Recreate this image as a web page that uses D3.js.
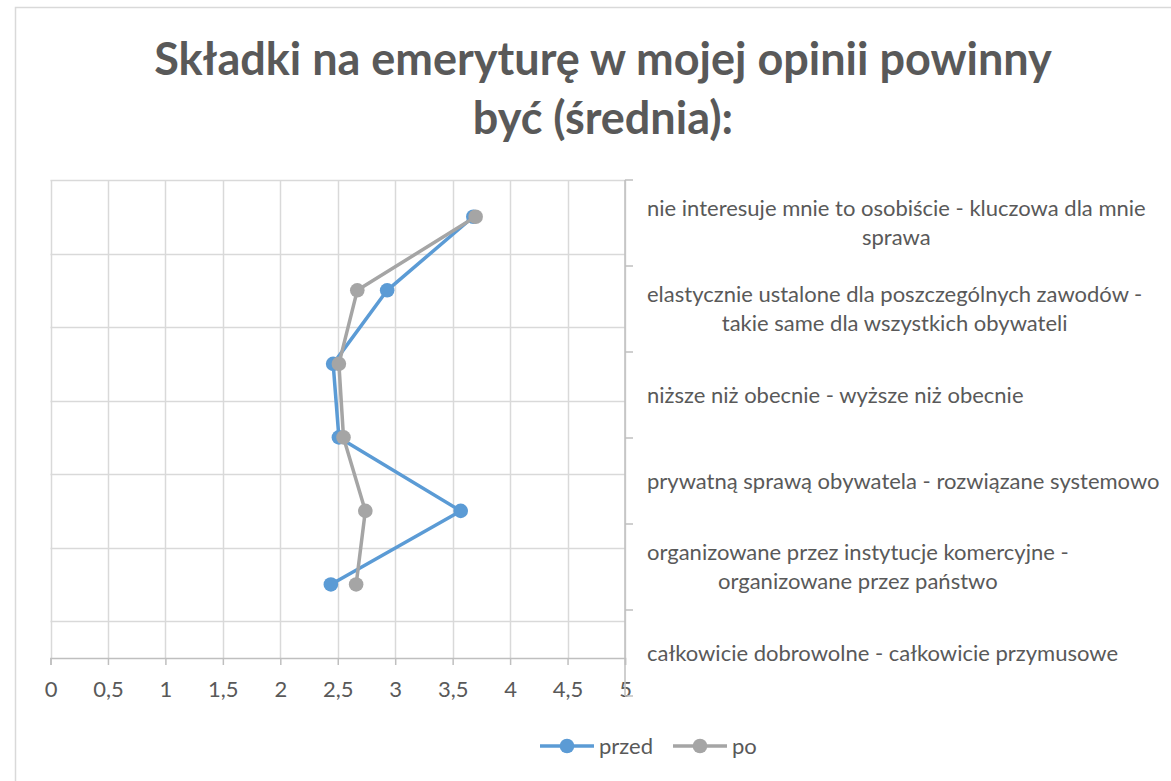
<!DOCTYPE html>
<html><head><meta charset="utf-8">
<script src="https://cdn.jsdelivr.net/npm/d3@7"></script>
<style>html,body{margin:0;padding:0;background:#fff;}</style>
</head><body>
<svg id="chart" width="1171" height="781"></svg>
<script>
const titleLines = ["Składki na emeryturę w mojej opinii powinny", "być (średnia):"];
const categories = [
  ["nie interesuje mnie to osobiście - kluczowa dla mnie", "sprawa"],
  ["elastycznie ustalone dla poszczególnych zawodów -", "takie same dla wszystkich obywateli"],
  ["niższe niż obecnie - wyższe niż obecnie"],
  ["prywatną sprawą obywatela - rozwiązane systemowo"],
  ["organizowane przez instytucje komercyjne -", "organizowane przez państwo"],
  ["całkowicie dobrowolne - całkowicie przymusowe"]
];
const przed = [3.68, 2.93, 2.46, 2.51, 3.57, 2.44];
const po    = [3.70, 2.67, 2.51, 2.55, 2.74, 2.66];
const xTicks = [0, 0.5, 1, 1.5, 2, 2.5, 3, 3.5, 4, 4.5, 5];
const seriesNames = ["przed", "po"];
const colors = ["#5b9bd5", "#a5a5a5"];

const FONT = "Lato, 'Open Sans', sans-serif";
const svg = d3.select("#chart");
svg.append("rect").attr("width",1171).attr("height",781).attr("fill","#fff");
svg.append("rect").attr("x",15.5).attr("y",7.5).attr("width",1300).attr("height",1000)
  .attr("fill","none").attr("stroke","#d9d9d9").attr("stroke-width",1.5);

const x = d3.scaleLinear().domain([0,5]).range([50.5,625]);
const n = categories.length;
const y = d3.scaleLinear().domain([0, n + 0.5]).range([658, 180]);
const band = d3.scaleBand().domain(d3.range(n)).range([180, 696]);

// horizontal gridlines
const hg = d3.range(n + 1).map(k => k + 0.5);
svg.append("g").selectAll("line").data(hg).join("line")
  .attr("x1", x(0)).attr("x2", x(5)).attr("y1", d=>Math.round(y(d))+0.5).attr("y2", d=>Math.round(y(d))+0.5)
  .attr("stroke","#d9d9d9").attr("stroke-width",1.5);
// vertical gridlines
svg.append("g").selectAll("line").data(xTicks).join("line")
  .attr("x1", d=>Math.round(x(d))+0.5).attr("x2", d=>Math.round(x(d))+0.5).attr("y1", y(n+0.5)).attr("y2", y(0))
  .attr("stroke","#d9d9d9").attr("stroke-width",1.5);

// bottom axis
const xAxis = d3.axisBottom(x).tickValues(xTicks).tickSize(7).tickPadding(16)
  .tickFormat(d => String(d).replace(".", ","));
const gx = svg.append("g").attr("transform", `translate(0,${y(0)})`).call(xAxis);
gx.select(".domain").attr("stroke","#bfbfbf").attr("stroke-width",1.5);
gx.selectAll(".tick line").attr("stroke","#bfbfbf").attr("stroke-width",1.5);
gx.selectAll(".tick text").attr("fill","#595959").style("font-family",FONT).style("font-size","22px");

// right category axis
const gy = svg.append("g").attr("transform", `translate(${x(5)},0)`);
gy.append("line").attr("x1",0).attr("x2",0).attr("y1",180).attr("y2",696)
  .attr("stroke","#bfbfbf").attr("stroke-width",1.5);
const bounds = d3.range(n + 1).map(i => 180 + i * band.step());
gy.selectAll("line.t").data(bounds).join("line").attr("class","t")
  .attr("x1",0).attr("x2",8).attr("y1",d=>d).attr("y2",d=>d)
  .attr("stroke","#bfbfbf").attr("stroke-width",1.5);

// category labels
const lineH = 29;
categories.forEach((lines, i) => {
  const cy = band(i) + band.bandwidth()/2;
  const g = svg.append("g");
  const texts = lines.map((t, j) => g.append("text").text(t)
    .attr("y", cy + (j - (lines.length-1)/2) * lineH)
    .attr("dy","0.35em").attr("fill","#595959")
    .style("font-family",FONT).style("font-size","22px"));
  const maxW = d3.max(texts, t => t.node().getComputedTextLength());
  texts.forEach(t => t.attr("x", 647 + maxW/2).attr("text-anchor","middle"));
});

// series
const line = d3.line().x(d => x(d.v)).y(d => y(d.p));
[przed, po].forEach((vals, s) => {
  const pts = vals.map((v, i) => ({v, p: n - i}));
  svg.append("path").datum(pts).attr("d", line).attr("fill","none")
    .attr("stroke", colors[s]).attr("stroke-width",3.5).attr("stroke-linejoin","round");
  svg.append("g").selectAll("circle").data(pts).join("circle")
    .attr("cx", d=>x(d.v)).attr("cy", d=>y(d.p)).attr("r",7.3).attr("fill",colors[s]);
});

// title
svg.append("g").selectAll("text").data(titleLines).join("text")
  .attr("x", 603).attr("y", (d,i) => 75 + i*59).attr("text-anchor","middle")
  .attr("fill","#595959").style("font-family",FONT).style("font-weight","bold").style("font-size","45px")
  .text(d=>d);

// legend
const legX = [540, 673];
seriesNames.forEach((nm, s) => {
  const g = svg.append("g").attr("transform", `translate(${legX[s]},746)`);
  g.append("line").attr("x1",0).attr("x2",54).attr("stroke",colors[s]).attr("stroke-width",3.5);
  g.append("circle").attr("cx",27).attr("r",7.3).attr("fill",colors[s]);
  g.append("text").attr("x",59).attr("dy","0.35em").attr("fill","#595959")
    .style("font-family",FONT).style("font-size","22px").text(nm);
});
</script>
</body></html>
